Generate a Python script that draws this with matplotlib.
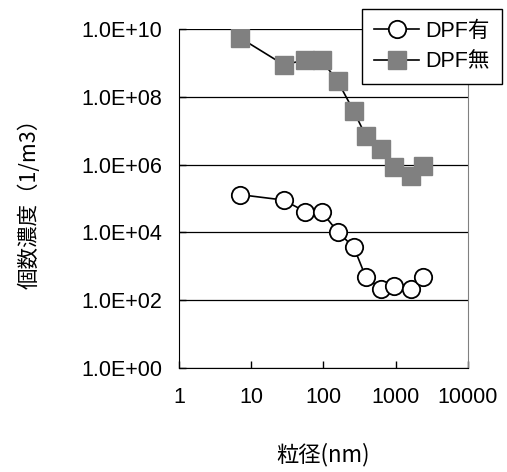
import numpy as np
import matplotlib
matplotlib.use("Agg")
import matplotlib.pyplot as plt
from matplotlib.ticker import FixedLocator, FuncFormatter, NullLocator

plt.rcParams['font.family'] = ['Liberation Sans', 'Noto Sans CJK JP', 'DejaVu Sans']

# particle diameter (nm)
diam = [7, 28, 56, 94, 157, 264, 384, 616, 952, 1610, 2400]
# number concentration (1/m3)
with_dpf = [1.3e5, 9.0e4, 4.1e4, 4.1e4, 1.05e4, 3.6e3, 4.9e2, 2.2e2, 2.6e2, 2.2e2, 4.9e2]
without_dpf = [5.5e9, 8.9e8, 1.2e9, 1.2e9, 2.9e8, 3.7e7, 7.1e6, 2.9e6, 8.3e5, 4.5e5, 9.3e5]

x_ticks = [1, 10, 100, 1000, 10000]
y_ticks = [1e0, 1e2, 1e4, 1e6, 1e8, 1e10]

fig = plt.figure(figsize=(5.07, 4.72), dpi=100)
ax = fig.add_axes([0.353, 0.2203, 0.570, 0.7183])

ax.plot(diam, with_dpf, color='black', lw=1.2, marker='o', ms=12.5,
        mfc='white', mec='black', mew=1.3, label='DPF有')
ax.plot(diam, without_dpf, color='black', lw=1.2, marker='s', ms=13.5,
        mfc='#808080', mec='#808080', label='DPF無')

ax.set_xscale('log')
ax.set_yscale('log')
ax.set_xlim(1, 10000)
ax.set_ylim(1e0, 1e10)

ax.xaxis.set_major_locator(FixedLocator(x_ticks))
ax.xaxis.set_minor_locator(NullLocator())
ax.yaxis.set_major_locator(FixedLocator(y_ticks))
ax.yaxis.set_minor_locator(NullLocator())
ax.xaxis.set_major_formatter(FuncFormatter(lambda v, p: f"{int(round(v))}"))
ax.yaxis.set_major_formatter(FuncFormatter(lambda v, p: f"{v:.1E}"))

ax.tick_params(axis='both', direction='in', length=5, width=1, labelsize=15.5)
ax.tick_params(axis='x', pad=14)
ax.tick_params(axis='y', pad=12)

ax.grid(axis='y', color='black', lw=0.9)
ax.set_axisbelow(True)
ax.spines['top'].set_visible(False)
ax.spines['right'].set_color('#808080')
ax.spines['left'].set_color('black')
ax.spines['bottom'].set_color('black')

cjk = ['Noto Sans CJK JP', 'DejaVu Sans']
ax.set_xlabel('粒径(nm)', fontsize=16, family=cjk, labelpad=25)
ax.set_ylabel('個数濃度（1/m3）', fontsize=15.5, family=cjk, labelpad=29)

leg = ax.legend(loc='upper right', bbox_to_anchor=(0.99, 0.981),
                bbox_transform=fig.transFigure, fontsize=15.5,
                fancybox=False, framealpha=1, edgecolor='black',
                handlelength=2.1, borderpad=0.55, labelspacing=0.45,
                handletextpad=0.3, borderaxespad=0)
leg.get_frame().set_linewidth(1.0)

fig.savefig("out.png", dpi=100)
